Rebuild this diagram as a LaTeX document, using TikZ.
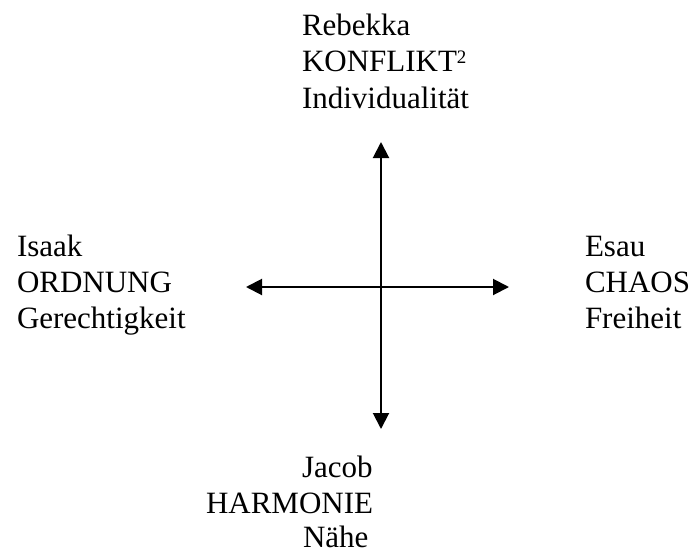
\documentclass[tikz,border=0pt]{standalone}
\usepackage{fontspec}
\setmainfont{Liberation Serif}
\usetikzlibrary{arrows.meta}
\newcommand{\supnum}[1]{\raisebox{8pt}{\fontsize{19}{19}\selectfont #1}}
\tikzset{
  lbl/.style={anchor=base west, inner sep=0pt, outer sep=0pt, font=\fontsize{31}{36.5}\selectfont},
  axis/.style={line width=2pt, {Triangle[length=16pt,width=16pt]}-{Triangle[length=16pt,width=16pt]}}
}
\begin{document}
\begin{tikzpicture}[x=1pt,y=-1pt]
\useasboundingbox (0,0) rectangle (691,554);
% top
\node[lbl] (t1) at (302,35) {Rebekka};
\node[lbl] (t2) at (302,71.5) {KONFLIKT\supnum{2}};
\node[lbl] (t3) at (302,108) {Individualität};
% left
\node[lbl] (l1) at (17,256) {Isaak};
\node[lbl] (l2) at (17,292) {ORDNUNG};
\node[lbl] (l3) at (17,328) {Gerechtigkeit};
% right
\node[lbl] (r1) at (585,256) {Esau};
\node[lbl] (r2) at (585,292) {CHAOS};
\node[lbl] (r3) at (585,328) {Freiheit};
% bottom
\node[lbl] (b1) at (302,477) {Jacob};
\node[lbl] (b2) at (206,513) {HARMONIE};
\node[lbl] (b3) at (303,547) {Nähe};
% axes
\coordinate (N) at (381,142);
\coordinate (S) at (381,429);
\coordinate (W) at (246,287);
\coordinate (E) at (509,287);
\draw[axis] (S) -- (N);
\draw[axis] (W) -- (E);
\end{tikzpicture}
\end{document}
